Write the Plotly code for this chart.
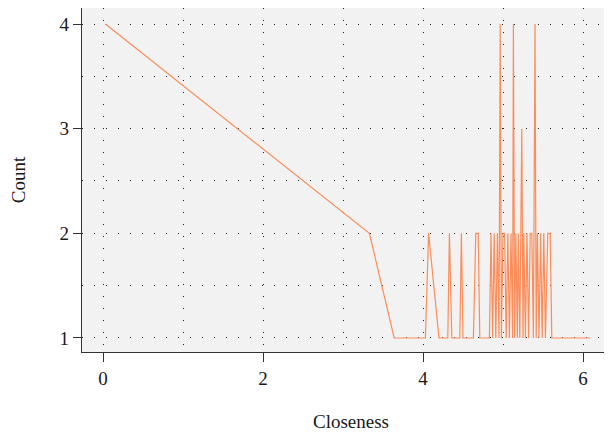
import plotly.graph_objects as go

closeness = [0.03, 3.33, 3.64, 4.03, 4.07, 4.20, 4.31, 4.33, 4.36, 4.46, 4.48, 4.50,
             4.63, 4.66, 4.69, 4.71, 4.83, 4.85, 4.87, 4.89, 4.91, 4.93, 4.95, 4.965,
             4.98, 5.00, 5.02, 5.04, 5.06, 5.08, 5.10, 5.12, 5.13, 5.145, 5.16, 5.18,
             5.19, 5.21, 5.235, 5.25, 5.26, 5.28, 5.30, 5.32, 5.34, 5.36, 5.38, 5.40,
             5.415, 5.43, 5.45, 5.47, 5.49, 5.51, 5.53, 5.56, 5.59, 5.61, 6.09]
count = [4, 2, 1, 1, 2, 1, 1, 2, 1, 1, 2, 1,
         1, 2, 2, 1, 1, 2, 1, 2, 1, 2, 1, 4,
         1, 2, 2, 1, 2, 1, 2, 1, 4, 1, 2, 1,
         2, 1, 3, 1, 2, 1, 2, 1, 2, 2, 1, 4,
         1, 2, 1, 2, 1, 2, 1, 2, 2, 1, 1]

x_ticks = [0, 2, 4, 6]
y_ticks = [1, 2, 3, 4]

FONT = "Liberation Serif"
DASH = "1px,11px"

fig = go.Figure()
fig.add_trace(go.Scatter(x=closeness, y=count, mode="lines",
                         line=dict(color="#FA8D5A", width=1.2),
                         showlegend=False))

fig.update_layout(
    width=612, height=436,
    margin=dict(l=74, r=0, t=0, b=92),
    plot_bgcolor="#F2F2F2", paper_bgcolor="white",
    font=dict(family=FONT, size=19, color="#1a1a1a"),
)
fig.update_xaxes(
    range=[-0.2625, 6.4625], tickvals=x_ticks, ticks="outside", ticklen=9,
    tickcolor="#333", showline=True, linecolor="#333", linewidth=1.2, mirror=True,
    showgrid=True, gridcolor="#222", gridwidth=1, griddash=DASH,
    minor=dict(dtick=1, tick0=0, showgrid=True, gridcolor="#222", gridwidth=1,
               griddash=DASH, ticks=""),
    zeroline=False, automargin=False,
    title=dict(text="Closeness", font=dict(family=FONT, size=19), standoff=26),
)
fig.update_yaxes(
    range=[0.866, 4.153], tickvals=y_ticks, ticks="outside", ticklen=8,
    tickcolor="#333", showline=True, linecolor="#333", linewidth=1.2, mirror=False,
    showgrid=True, gridcolor="#222", gridwidth=1, griddash=DASH,
    minor=dict(dtick=0.5, tick0=0, showgrid=True, gridcolor="#222", gridwidth=1,
               griddash=DASH, ticks=""),
    zeroline=False, automargin=False,
    title=dict(text="Count", font=dict(family=FONT, size=19), standoff=30),
)

fig.write_html("out.html")
